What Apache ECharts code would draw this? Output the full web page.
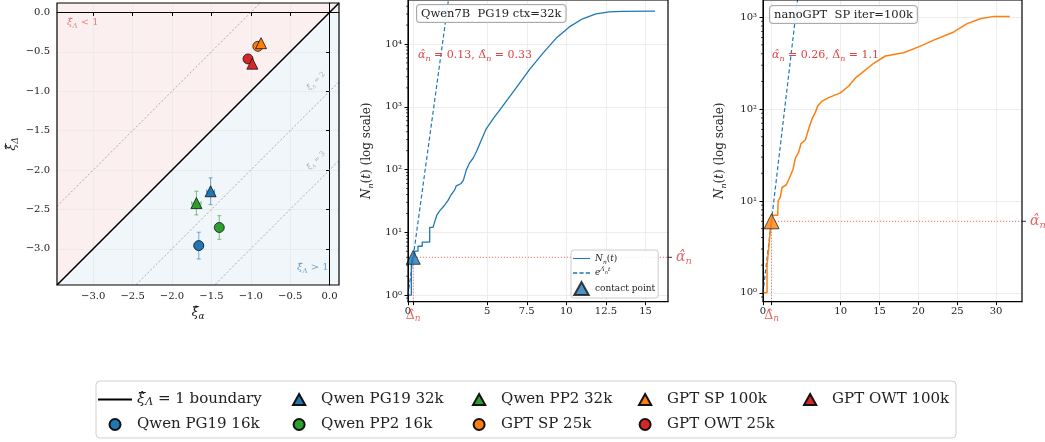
<!DOCTYPE html>
<html>
<head>
<meta charset="utf-8">
<script src="https://cdn.jsdelivr.net/npm/echarts@6/dist/echarts.min.js"></script>
<style>
  html, body { margin: 0; padding: 0; background: #fff; }
  #main { width: 1045px; height: 442px; }
</style>
</head>
<body>
<div id="main"></div>
<script>
// ---- left panel: fitted exponents per run ----
var runNames   = ['Qwen PG19 16k', 'Qwen PG19 32k', 'Qwen PP2 16k', 'Qwen PP2 32k', 'GPT SP 25k', 'GPT SP 100k', 'GPT OWT 25k', 'GPT OWT 100k'];
var xiAlpha    = [-1.66, -1.51, -1.40, -1.69, -0.91, -0.87, -1.035, -0.98];
var xiDelta    = [-2.96, -2.27, -2.73, -2.42, -0.43, -0.39, -0.59, -0.65];
var xiAlphaErr = [0.06, 0.05, 0.02, 0.06, 0.02, 0.01, 0.02, 0.01];
var xiDeltaErr = [0.17, 0.17, 0.15, 0.15, 0.02, 0.02, 0.04, 0.02];
var guideOffsets = [1, -1, -2];            // xi_Delta = xi_alpha + c
var xiTicks = [-3, -2.5, -2, -1.5, -1, -0.5, 0];

// ---- middle panel: Qwen7B PG19 ctx=32k ----
var qwenT = [0.06, 0.21, 0.21, 0.28, 0.28, 0.42, 0.42, 0.63, 0.63, 0.9, 0.9, 1.37, 1.37, 1.58, 1.66, 1.83, 2.0, 2.31, 2.52, 2.73,
             2.94, 3.05, 3.36, 3.5, 3.68, 3.89, 4.1, 4.31, 4.62, 4.94, 5.36, 5.99, 6.83, 7.67, 8.51, 9.35, 10.19, 11.03, 11.87, 12.71, 13.5, 15.6];
var qwenN = [1, 1, 3, 3, 4, 4, 5, 5, 6, 6, 7, 7, 12, 12, 14, 19, 22, 27, 32, 40,
             47, 55, 60, 68, 98, 128, 150, 190, 290, 445, 635, 1030, 2000, 3900, 7100, 12300, 18700, 25200, 30200, 32500, 33100, 33300];
var qwenFitT = [0, 2.6];
var qwenFitN = [1, 61000];
var qwenDelta = 0.33;
var qwenAlphaN = 4;
var qwenTicks = [0, 0.33, 5, 7.5, 10, 12.5, 15];
var qwenTickLabels = [0, 5, 7.5, 10, 12.5, 15];
var qwenMinor = [0.9, 2, 3, 4, 5, 6, 7, 8, 9, 20, 30, 40, 50, 60, 70, 80, 90, 200, 300, 400, 500, 600, 700, 800, 900,
                 2000, 3000, 4000, 5000, 6000, 7000, 8000, 9000, 20000, 30000, 40000];

// ---- right panel: nanoGPT SP iter=100k ----
var gptT = [0, 0.52, 0.52, 0.73, 0.95, 1.07, 1.29, 1.89, 1.95, 2.23, 2.45, 3.0, 3.3, 3.86, 4.16, 4.59, 4.89, 5.45, 5.88, 6.31,
            6.74, 7.04, 7.6, 8.45, 9.96, 11.03, 11.9, 12.96, 14.25, 15.75, 18.1, 20.26, 21.97, 24.55, 26.27, 27.98, 29.7, 31.76];
var gptN = [1, 1, 2, 3, 5, 6, 7, 7, 10, 11, 14, 15, 17, 22, 29, 34, 42, 46, 61, 78,
            92, 108, 122, 133, 150, 178, 218, 257, 315, 378, 410, 484, 562, 690, 850, 960, 1020, 1020];
var gptFitT = [0, 4.5];
var gptFitN = [1, 1700];
var gptDelta = 1.1;
var gptAlphaN = 6;
var gptTicks = [0, 1.1, 10, 15, 20, 25, 30];
var gptTickLabels = [0, 10, 15, 20, 25, 30];
var gptMinor = [0.9, 2, 3, 4, 5, 6, 7, 8, 9, 20, 30, 40, 50, 60, 70, 80, 90, 200, 300, 400, 500, 600, 700, 800, 900];

// styles
var runColors = ['#1f77b4', '#1f77b4', '#2ca02c', '#2ca02c', '#ff7f0e', '#ff7f0e', '#d62728', '#d62728'];
var runShapes = ['circle', 'triangle', 'circle', 'triangle', 'circle', 'triangle', 'circle', 'triangle'];
var SERIF = 'DejaVu Serif';
var RED = '#dc4446';
var xiMin = -3.46, xiMax = 0.12;
var qwenXMax = 16.42, qwenYMin = 0.785, qwenYMax = 50200;
var gptXMax = 33.33, gptYMin = 0.80, gptYMax = 1538;

var SUP = ['\u2070', '\u00b9', '\u00b2', '\u00b3', '\u2074', '\u2075'];
var TRI = 'path://M5,0L10,9L0,9Z';
var LINE = 'path://M0,0H22V1.3H0Z';
var DASH = 'path://M0,0H4V1.2H0Z M6,0H10V1.2H6Z M12,0H16V1.2H12Z';

function zip(a, b) { return a.map(function (v, i) { return [v, b[i]]; }); }

// rich styles for ECharts labels (key = 'color') or zrender graphic text (key = 'fill')
function mathRich(size, color, lh, key) {
  key = key || 'color';
  lh = lh || size + 4;
  var sub = Math.round(size * 0.7);
  function st(o) { o[key] = color; o.fontFamily = SERIF; return o; }
  return {
    i: st({ fontStyle: 'italic', fontSize: size, lineHeight: lh }),
    r: st({ fontSize: size, lineHeight: lh }),
    s: st({ fontStyle: 'italic', fontSize: sub, lineHeight: sub, verticalAlign: 'bottom' }),
    p: st({ fontStyle: 'italic', fontSize: sub, lineHeight: sub, verticalAlign: 'top' }),
    q: st({ fontStyle: 'italic', fontSize: Math.round(size * 0.55), lineHeight: Math.round(size * 0.55), verticalAlign: 'middle' })
  };
}

function fmtXi(v) { return v.toFixed(1).replace('-', '\u2212'); }
function fmtPow(v) {
  var e = Math.log10(v), r = Math.round(e);
  if (Math.abs(e - r) > 1e-6) return '';
  return '10' + SUP[r];
}

var tickLabel = { fontFamily: SERIF, fontSize: 10, color: '#222' };
var gridLine = { show: true, lineStyle: { color: '#e9e9e9', width: 0.8 } };

function timeAxis(idx, max, ticks, labels) {
  return {
    type: 'value', gridIndex: idx, min: 0, max: max,
    axisLine: { show: true, lineStyle: { color: '#000', width: 1 } },
    axisTick: { show: true, length: 3.5, lineStyle: { color: '#000' }, customValues: ticks },
    axisLabel: {
      customValues: labels, margin: 5, fontFamily: SERIF, fontSize: 10, color: '#222',
      showMinLabel: true, hideOverlap: false,
      formatter: function (v) { return String(v); }
    },
    splitLine: gridLine
  };
}

function countAxis(idx, min, max, gap) {
  return {
    type: 'log', gridIndex: idx, min: min, max: max, logBase: 10,
    name: '{i|N}{s|n}{r|(}{i|t}{r|) (log scale)}', nameLocation: 'middle', nameGap: gap,
    nameTextStyle: { rich: mathRich(12, '#222') },
    axisLine: { show: true, lineStyle: { color: '#000', width: 1 } },
    axisTick: { show: true, length: 3.5, lineStyle: { color: '#000' } },
    axisLabel: { margin: 6, fontFamily: SERIF, fontSize: 10, color: '#222', formatter: fmtPow,
                 showMinLabel: false, showMaxLabel: false },
    splitLine: gridLine
  };
}

function minorTicks(idx, values) {
  return {
    type: 'custom', xAxisIndex: idx, yAxisIndex: idx, silent: true, clip: false, z: 5,
    data: values.map(function (v) { return [0, v]; }),
    renderItem: function (params, api) {
      var p = api.coord([api.value(0), api.value(1)]);
      return { type: 'line', shape: { x1: p[0] - 2, y1: p[1], x2: p[0], y2: p[1] },
               style: { stroke: '#000', lineWidth: 0.7 } };
    }
  };
}

// alpha-hat tick + label on the right edge
function alphaMarker(idx, xMax, alphaN) {
  return {
    type: 'scatter', xAxisIndex: idx, yAxisIndex: idx, silent: true, clip: false, z: 6,
    symbol: 'rect', symbolSize: [4, 1], symbolOffset: [2, 0],
    itemStyle: { color: '#000' },
    data: [[xMax, alphaN]],
    label: { show: true, position: 'right', distance: 4, formatter: '{i|\u03b1\u0302}{s|n}', rich: mathRich(14, RED) }
  };
}

// Delta-hat label under the time axis
function deltaMarker(idx, delta, yMin) {
  return {
    type: 'scatter', xAxisIndex: idx, yAxisIndex: idx, silent: true, clip: false, z: 6,
    symbolSize: 1, itemStyle: { color: 'rgba(0,0,0,0)' },
    data: [[delta, yMin]],
    label: { show: true, position: 'bottom', distance: 7, formatter: '{r|\u0394\u0302}{s|n}', rich: mathRich(12.5, RED, 14) }
  };
}

var series = [];

// shaded regions either side of the xi_Lambda = 1 boundary
series.push({
  type: 'custom', xAxisIndex: 0, yAxisIndex: 0, silent: true, z: 0,
  data: [[xiMin, xiMin], [xiMax, xiMax]],
  renderItem: function (params, api) {
    var lo = api.coord([xiMin, xiMin]), hi = api.coord([xiMax, xiMax]);
    var pts = params.dataIndex === 0
      ? [[lo[0], lo[1]], [lo[0], hi[1]], [hi[0], hi[1]]]
      : [[lo[0], lo[1]], [hi[0], lo[1]], [hi[0], hi[1]]];
    return { type: 'polygon', shape: { points: pts },
             style: { fill: params.dataIndex === 0 ? 'rgba(214,39,40,0.075)' : 'rgba(31,119,180,0.065)' } };
  }
});

guideOffsets.forEach(function (c) {
  series.push({
    type: 'line', xAxisIndex: 0, yAxisIndex: 0, silent: true, symbol: 'none', z: 2,
    lineStyle: { color: '#999', width: 0.8, type: [2, 2] },
    data: [[xiMin, xiMin + c], [xiMax, xiMax + c]]
  });
});

series.push({
  type: 'line', name: 'boundary', xAxisIndex: 0, yAxisIndex: 0, symbol: 'none', z: 3,
  itemStyle: { color: '#000' }, lineStyle: { color: '#000', width: 1.6 },
  data: [[xiMin, xiMin], [xiMax, xiMax]]
});

// error bars
series.push({
  type: 'custom', xAxisIndex: 0, yAxisIndex: 0, silent: true, z: 3,
  data: runNames.map(function (n, i) { return [xiAlpha[i], xiDelta[i], xiAlphaErr[i], xiDeltaErr[i], i]; }),
  renderItem: function (params, api) {
    var x = api.value(0), y = api.value(1), ex = api.value(2), ey = api.value(3), k = api.value(4);
    var l = api.coord([x - ex, y]), r = api.coord([x + ex, y]);
    var t = api.coord([x, y + ey]), b = api.coord([x, y - ey]);
    var st = { stroke: runColors[k], lineWidth: 1, opacity: 0.6 };
    function seg(x1, y1, x2, y2) { return { type: 'line', shape: { x1: x1, y1: y1, x2: x2, y2: y2 }, style: st }; }
    return { type: 'group', children: [
      seg(l[0], l[1], r[0], r[1]), seg(t[0], t[1], b[0], b[1]),
      seg(l[0], l[1] - 2, l[0], l[1] + 2), seg(r[0], r[1] - 2, r[0], r[1] + 2),
      seg(t[0] - 2, t[1], t[0] + 2, t[1]), seg(b[0] - 2, b[1], b[0] + 2, b[1])
    ] };
  }
});

runNames.forEach(function (name, i) {
  series.push({
    type: 'scatter', name: name, xAxisIndex: 0, yAxisIndex: 0, z: 4,
    symbol: runShapes[i], symbolSize: runShapes[i] === 'triangle' ? 11 : 10,
    itemStyle: { color: runColors[i], borderColor: '#111', borderWidth: 0.8, opacity: 1 },
    data: [[xiAlpha[i], xiDelta[i]]]
  });
});

// region annotations
series.push({
  type: 'scatter', xAxisIndex: 0, yAxisIndex: 0, silent: true, z: 5,
  symbolSize: 1, itemStyle: { color: 'rgba(0,0,0,0)' },
  data: [
    { value: [-3.34, -0.13], label: { show: true, position: 'right', distance: 0,
      formatter: '{i|\u03be\u0302}{s|\u039b}{r| < 1}', rich: mathRich(10, '#e06666') } },
    { value: [-0.42, -3.24], label: { show: true, position: 'right', distance: 0,
      formatter: '{i|\u03be\u0302}{s|\u039b}{r| > 1}', rich: mathRich(10, '#4a90c8') } },
    { value: [-0.17, -0.87], label: { show: true, position: 'inside', rotate: 45,
      formatter: '{i|\u03be\u0302}{s|\u039b}{r| = 2}', rich: mathRich(7, '#999') } },
    { value: [-0.17, -1.88], label: { show: true, position: 'inside', rotate: 45,
      formatter: '{i|\u03be\u0302}{s|\u039b}{r| = 3}', rich: mathRich(7, '#999') } }
  ]
});

// middle panel
series.push({
  type: 'line', name: 'exp fit', xAxisIndex: 1, yAxisIndex: 1, symbol: 'none', z: 2,
  itemStyle: { color: '#1f77b4' }, lineStyle: { color: '#1f77b4', width: 1.2, type: [4, 2.5] },
  data: zip(qwenFitT, qwenFitN)
});
series.push({
  type: 'line', name: 'N_n(t)', xAxisIndex: 1, yAxisIndex: 1, symbol: 'none', z: 3,
  itemStyle: { color: '#1f77b4' }, lineStyle: { color: '#1f77b4', width: 1.3 },
  data: zip(qwenT, qwenN)
});
series.push({
  type: 'line', xAxisIndex: 1, yAxisIndex: 1, symbol: 'none', silent: true, z: 2,
  lineStyle: { color: RED, width: 0.9, type: [1, 2] },
  data: [[qwenDelta, qwenYMin], [qwenDelta, qwenAlphaN], [qwenXMax, qwenAlphaN]]
});
series.push({
  type: 'scatter', name: 'contact point', xAxisIndex: 1, yAxisIndex: 1, z: 4,
  symbol: 'triangle', symbolSize: [14, 14],
  itemStyle: { color: '#1f77b4', borderColor: '#111', borderWidth: 0.9 },
  data: [[qwenDelta, qwenAlphaN]]
});
series.push(alphaMarker(1, qwenXMax, qwenAlphaN));
series.push(deltaMarker(1, qwenDelta, qwenYMin));
series.push(minorTicks(1, qwenMinor));

// right panel
series.push({
  type: 'line', name: 'exp fit gpt', xAxisIndex: 2, yAxisIndex: 2, symbol: 'none', z: 2,
  lineStyle: { color: '#1f77b4', width: 1.2, type: [4, 2.5] },
  data: zip(gptFitT, gptFitN)
});
series.push({
  type: 'line', name: 'N gpt', xAxisIndex: 2, yAxisIndex: 2, symbol: 'none', z: 3,
  lineStyle: { color: '#ff7f0e', width: 1.5 },
  data: zip(gptT, gptN)
});
series.push({
  type: 'line', xAxisIndex: 2, yAxisIndex: 2, symbol: 'none', silent: true, z: 2,
  lineStyle: { color: RED, width: 0.9, type: [1, 2] },
  data: [[gptDelta, gptYMin], [gptDelta, gptAlphaN], [gptXMax, gptAlphaN]]
});
series.push({
  type: 'scatter', name: 'contact gpt', xAxisIndex: 2, yAxisIndex: 2, z: 4,
  symbol: 'triangle', symbolSize: [15, 15],
  itemStyle: { color: '#ff7f0e', borderColor: '#111', borderWidth: 0.9 },
  data: [[gptDelta, gptAlphaN]]
});
series.push(alphaMarker(2, gptXMax, gptAlphaN));
series.push(deltaMarker(2, gptDelta, gptYMin));
series.push(minorTicks(2, gptMinor));

// bottom legend, matplotlib style: 5 columns, filled column-wise
var legendCols = [
  { left: 98, names: ['boundary', 'Qwen PG19 16k'] },
  { left: 292, names: ['Qwen PG19 32k', 'Qwen PP2 16k'] },
  { left: 472, names: ['Qwen PP2 32k', 'GPT SP 25k'] },
  { left: 638, names: ['GPT SP 100k', 'GPT OWT 25k'] },
  { left: 803, names: ['GPT OWT 100k'] }
];
function legendItem(name) {
  if (name === 'boundary') return { name: name, icon: LINE, itemStyle: { borderWidth: 0 } };
  var i = runNames.indexOf(name);
  return { name: name, icon: runShapes[i] === 'triangle' ? TRI : 'circle' };
}
var legendRich = mathRich(15, '#222', 17);
var legends = legendCols.map(function (col) {
  return {
    orient: 'vertical', left: col.left, top: 391, padding: 0, itemGap: 8,
    itemWidth: 34, itemHeight: 11, selectedMode: false, symbolKeepAspect: true,
    data: col.names.map(legendItem),
    formatter: function (n) {
      return n === 'boundary' ? '{i|\u03be\u0302}{s|\u039b}{r| = 1 boundary}' : '{r|' + n + '}';
    },
    textStyle: { fontFamily: SERIF, fontSize: 15, color: '#222', lineHeight: 17, rich: legendRich }
  };
});
legends.push({
  orient: 'vertical', left: 571, top: 250, padding: [2, 3, 2, 2], itemGap: 1.5,
  itemWidth: 17, itemHeight: 13, selectedMode: false, symbolKeepAspect: true,
  backgroundColor: 'rgba(255,255,255,0.85)', borderColor: '#ccc', borderWidth: 1, borderRadius: 3,
  data: [
    { name: 'N_n(t)', icon: LINE, itemStyle: { borderWidth: 0 } },
    { name: 'exp fit', icon: DASH, itemStyle: { borderWidth: 0 } },
    { name: 'contact point', icon: TRI }
  ],
  formatter: function (n) {
    if (n === 'N_n(t)') return '{i|N}{s|n}{r|(}{i|t}{r|)}';
    if (n === 'exp fit') return '{i|e}{p|\u039b\u0302}{q|n}{p|t}';
    return '{r|contact point}';
  },
  textStyle: { fontFamily: SERIF, fontSize: 9, color: '#222', lineHeight: 13, rich: mathRich(9, '#222', 13) }
});

function boxText(x, y, text) {
  return { type: 'text', x: x, y: y, z: 10,
    style: { text: text, font: '11.5px "DejaVu Serif"', fill: '#222',
             backgroundColor: 'rgba(255,255,255,0.85)', borderColor: '#aaa', borderWidth: 1, borderRadius: 3,
             padding: [3, 4, 2, 4] } };
}
function fitText(x, y, a, d) {
  return { type: 'text', x: x, y: y, z: 10,
    style: { text: '{i|\u03b1\u0302}{s|n}{r| = ' + a + ', \u0394\u0302}{s|n}{r| = ' + d + '}',
             rich: mathRich(11, RED, 15, 'fill') } };
}

var option = {
  animation: false,
  backgroundColor: '#fff',
  grid: [
    { left: 57, top: 3, width: 282, height: 282, show: true, z: 5, borderColor: '#000', borderWidth: 1.2, backgroundColor: 'transparent' },
    { left: 408, top: -4, width: 260, height: 305.7, show: true, z: 5, borderColor: '#000', borderWidth: 1.2, backgroundColor: 'transparent' },
    { left: 763, top: -4, width: 259, height: 305.7, show: true, z: 5, borderColor: '#000', borderWidth: 1.2, backgroundColor: 'transparent' }
  ],
  xAxis: [
    {
      type: 'value', gridIndex: 0, min: xiMin, max: xiMax, z: 1,
      name: '{i|\u03be\u0302}{s|\u03b1}', nameLocation: 'middle', nameGap: 18,
      nameTextStyle: { rich: mathRich(13, '#222') },
      axisLine: { show: true, lineStyle: { color: '#000', width: 1 } },
      axisTick: { show: true, length: 3.5, lineStyle: { color: '#000' }, customValues: xiTicks },
      axisLabel: Object.assign({ customValues: xiTicks, margin: 6, formatter: fmtXi }, tickLabel),
      splitLine: gridLine
    },
    timeAxis(1, qwenXMax, qwenTicks, qwenTickLabels),
    timeAxis(2, gptXMax, gptTicks, gptTickLabels)
  ],
  yAxis: [
    {
      type: 'value', gridIndex: 0, min: xiMin, max: xiMax, z: 1,
      name: '{i|\u03be\u0302}{s|\u0394}', nameLocation: 'middle', nameGap: 37,
      nameTextStyle: { rich: mathRich(13, '#222') },
      axisLine: { show: true, lineStyle: { color: '#000', width: 1 } },
      axisTick: { show: true, length: 3.5, lineStyle: { color: '#000' }, customValues: xiTicks },
      axisLabel: Object.assign({ customValues: xiTicks, margin: 7, formatter: fmtXi }, tickLabel),
      splitLine: gridLine
    },
    countAxis(1, qwenYMin, qwenYMax, 33),
    countAxis(2, gptYMin, gptYMax, 35)
  ],
  legend: legends,
  graphic: [
    { type: 'rect', shape: { x: 96, y: 381, width: 860, height: 57, r: 4 },
      style: { fill: '#fff', stroke: '#cfcfcf', lineWidth: 1 }, z: 0 },
    boxText(417, 5, 'Qwen7B  PG19 ctx=32k'),
    boxText(770, 6, 'nanoGPT  SP iter=100k'),
    fitText(418, 48, '0.13', '0.33'),
    fitText(772, 48, '0.26', '1.1')
  ],
  series: series
};

var chart = echarts.init(document.getElementById('main'));
chart.setOption(option);
</script>
</body>
</html>
